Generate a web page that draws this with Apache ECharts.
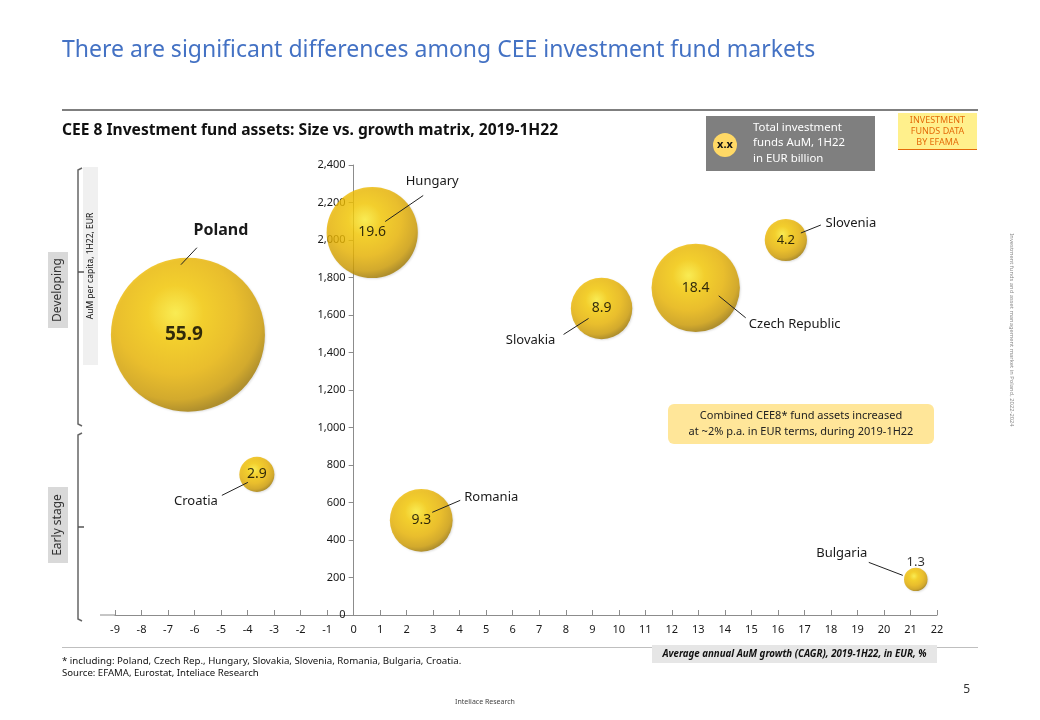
<!DOCTYPE html>
<html><head><meta charset="utf-8">
<script src="https://cdn.jsdelivr.net/npm/echarts@6/dist/echarts.min.js"></script>
<style>html,body{margin:0;padding:0;background:#fff}#c{width:1040px;height:720px}</style>
</head><body><div id="c"></div>
<script>
// ---- data ----
var countries = ['Poland','Hungary','Slovenia','Czech Republic','Slovakia','Croatia','Romania','Bulgaria'];
var growth =    [-6.25, 0.7, 16.3, 12.9, 9.35, -3.65, 2.55, 21.2];   // CAGR %, x
var perCapita = [1495, 2040, 2000, 1745, 1635, 750, 505, 190];        // AuM per capita EUR, y
var aum =       [55.9, 19.6, 4.2, 18.4, 8.9, 2.9, 9.3, 1.3];          // EUR bn, bubble size
var xTicks = {min:-9, max:22, interval:1};
var yTicks = {min:0, max:2400, interval:200};
var threshold = 1000;

// ---- label styling (pixel offsets from bubble centre) ----
var nameStyle = [
  {tx:33, ty:-104, bold:true, size:16, l:[-7,-70,9,-87]},
  {tx:60, ty:-51, l:[13,-11,51,-37]},
  {tx:65, ty:-17, l:[15,-7,35,-15]},
  {tx:99, ty:36, l:[23,8,50,30]},
  {tx:-71, ty:32, l:[-38,26,-13,10]},
  {tx:-61, ty:27, l:[-35,21,-9,8]},
  {tx:70, ty:-23, l:[11,-8,39,-20]},
  {tx:-74, ty:-26, l:[-47,-17,-13,-4]}
];
var valStyle = [{bold:true,size:19,dx:-4},{size:14,dx:0},{size:13},{size:14},{size:14},{size:14},{size:14},{size:13,dy:-17}];

var FONT = '"Noto Sans", "Open Sans", sans-serif';
var chart = echarts.init(document.getElementById('c'), null, {renderer:'canvas'});

var bubbleColor = new echarts.graphic.RadialGradient(0.42, 0.36, 0.72, [
  {offset:0, color:'#FFEE30'},
  {offset:0.25, color:'#F7CA00'},
  {offset:0.55, color:'#EBB500'},
  {offset:0.78, color:'#CF9C00'},
  {offset:0.9, color:'#A27A00'},
  {offset:1, color:'#BC9000'}
]);

var seriesData = countries.map(function(c,i){
  var vs = valStyle[i];
  return {
    name:c, value:[growth[i], perCapita[i], aum[i]],
    label:{show:true, position:'inside', formatter: aum[i].toFixed(1),
      fontSize: vs.size, fontWeight: vs.bold?'bold':'normal', color:'#000', fontFamily:FONT,
      offset:[vs.dx||0, vs.dy||0]}
  };
});

var GL = 115, GR = 103;
var unit = (1040 - GL - GR) / (xTicks.max - xTicks.min);
var yOffset = -(0 - xTicks.min) * unit;

var option = {
  backgroundColor:'#fff',
  animation:false,
  grid:{left:GL, right:GR, top:165, bottom:105, containLabel:false},
  xAxis:{type:'value', min:xTicks.min, max:xTicks.max, interval:xTicks.interval,
    splitLine:{show:false},
    axisLine:{onZero:false, lineStyle:{color:'#8c8c8c'}},
    axisTick:{show:true, inside:true, length:5, lineStyle:{color:'#8c8c8c'}},
    axisLabel:{color:'#1a1a1a', fontSize:11, fontFamily:FONT, margin:9}},
  yAxis:{type:'value', min:yTicks.min, max:yTicks.max, interval:yTicks.interval,
    offset:yOffset,
    splitLine:{show:false},
    axisLine:{show:true, onZero:false, lineStyle:{color:'#8c8c8c'}},
    axisTick:{show:true, length:5, lineStyle:{color:'#8c8c8c'}},
    axisLabel:{color:'#1a1a1a', fontSize:11, fontFamily:FONT, margin:8,
      formatter:function(v){return v.toLocaleString('en-US');}}},
  series:[{
    type:'scatter', clip:false,
    data: seriesData,
    symbolSize:function(v){return 20.6*Math.sqrt(v[2]);},
    itemStyle:{color:bubbleColor, shadowBlur:2, shadowColor:'rgba(0,0,0,0.15)', shadowOffsetX:1, shadowOffsetY:1},
    markLine:{silent:true, symbol:'none', label:{show:false},
      lineStyle:{type:[4,3], color:'#555', width:1},
      data:[[{coord:[-8.2, threshold]},{coord:[24.4, threshold]}]]}
  }]
};
chart.setOption(option);

// ---- country names & leader lines ----
var g = [];
countries.forEach(function(c,i){
  var p = chart.convertToPixel({gridIndex:0},[growth[i], perCapita[i]]);
  var s = nameStyle[i];
  g.push({type:'line', silent:true, z:50, shape:{x1:p[0]+s.l[0], y1:p[1]+s.l[1], x2:p[0]+s.l[2], y2:p[1]+s.l[3]},
    style:{stroke:'#222', lineWidth:1}});
  g.push({type:'text', z:50, x:p[0]+s.tx, y:p[1]+s.ty, style:{text:c, fill:'#1a1a1a', font:(s.bold?'bold ':'')+(s.size||13)+'px '+FONT, align:'center', verticalAlign:'middle'}});
});

// ---- static page decorations ----
g = g.concat([
  {type:'text', x:62, y:50, style:{text:'There are significant differences among CEE investment fund markets', fill:'#4472C4', font:'23px '+FONT, verticalAlign:'middle'}},
  {type:'line', shape:{x1:100, y1:615, x2:115, y2:615}, style:{stroke:'#8c8c8c', lineWidth:1}},
  {type:'rect', shape:{x:62, y:109, width:916, height:2}, style:{fill:'#7f7f7f'}},
  {type:'text', x:62, y:131, style:{text:'CEE 8 Investment fund assets: Size vs. growth matrix, 2019-1H22', fill:'#111', font:'bold 15.6px '+FONT, verticalAlign:'middle'}},
  // legend box
  {type:'rect', shape:{x:706, y:116, width:169, height:55}, style:{fill:'#7f7f7f'}},
  {type:'circle', shape:{cx:725, cy:145, r:12}, style:{fill:'#FFD966'}},
  {type:'text', x:725, y:145, style:{text:'x.x', fill:'#111', font:'bold 11px '+FONT, align:'center', verticalAlign:'middle'}},
  {type:'text', x:753, y:143, style:{text:'Total investment\nfunds AuM, 1H22\nin EUR billion', fill:'#fff', font:'11.4px '+FONT, lineHeight:15.5, verticalAlign:'middle'}},
  // efama box
  {type:'rect', shape:{x:898, y:113, width:79, height:37}, style:{fill:'#FFF08C'}},
  {type:'rect', shape:{x:898, y:149, width:79, height:1}, style:{fill:'#E46C0A'}},
  {type:'text', x:937.5, y:131, style:{text:'INVESTMENT\nFUNDS DATA\nBY EFAMA', fill:'#E46C0A', font:'9px '+FONT, align:'center', verticalAlign:'middle', lineHeight:11}},
  // left side labels
  {type:'rect', shape:{x:48, y:252, width:20, height:76}, style:{fill:'#d9d9d9'}},
  {type:'text', x:58, y:290, rotation:Math.PI/2, style:{text:'Developing', fill:'#333', font:'12px '+FONT, align:'center', verticalAlign:'middle'}},
  {type:'rect', shape:{x:48, y:487, width:20, height:76}, style:{fill:'#d9d9d9'}},
  {type:'text', x:58, y:525, rotation:Math.PI/2, style:{text:'Early stage', fill:'#333', font:'12px '+FONT, align:'center', verticalAlign:'middle'}},
  {type:'rect', shape:{x:83, y:167, width:15, height:198}, style:{fill:'#f0f0f0'}},
  {type:'text', x:90.5, y:266, rotation:Math.PI/2, style:{text:'AuM per capita, 1H22, EUR', fill:'#111', font:'8.5px '+FONT, align:'center', verticalAlign:'middle'}},
  // left brackets
  {type:'polyline', shape:{points:[[82,168],[78,170],[78,424],[82,426]]}, style:{stroke:'#666', lineWidth:1.5, fill:null}},
  {type:'line', shape:{x1:78,y1:272,x2:84,y2:272}, style:{stroke:'#555', lineWidth:1.5}},
  {type:'polyline', shape:{points:[[82,433],[78,435],[78,619],[82,621]]}, style:{stroke:'#666', lineWidth:1.5, fill:null}},
  {type:'line', shape:{x1:78,y1:527,x2:84,y2:527}, style:{stroke:'#555', lineWidth:1.5}},
  // annotation
  {type:'rect', shape:{x:668, y:404, width:266, height:40, r:6}, style:{fill:'#FFE699'}},
  {type:'text', x:801, y:424, style:{text:'Combined CEE8* fund assets increased\nat ~2% p.a. in EUR terms, during 2019-1H22', fill:'#222', font:'11px '+FONT, align:'center', verticalAlign:'middle', lineHeight:16}},
  // right vertical note
  {type:'text', x:1012, y:330, rotation:-Math.PI/2, style:{text:'Investment funds and asset management market in Poland, 2022-2024', fill:'#888', font:'5.8px '+FONT, align:'center', verticalAlign:'middle'}},
  // bottom
  {type:'rect', shape:{x:62, y:647, width:916, height:1}, style:{fill:'#bfbfbf'}},
  {type:'rect', shape:{x:652, y:645, width:285, height:18}, style:{fill:'#e6e6e6'}},
  {type:'text', x:794.5, y:654, style:{text:'Average annual AuM growth (CAGR), 2019-1H22, in EUR, %', fill:'#111', font:'italic bold 9.7px '+FONT, align:'center', verticalAlign:'middle'}},
  {type:'text', x:62, y:661, style:{text:'* including: Poland, Czech Rep., Hungary, Slovakia, Slovenia, Romania, Bulgaria, Croatia.', fill:'#111', font:'9.7px '+FONT, verticalAlign:'middle'}},
  {type:'text', x:62, y:673, style:{text:'Source: EFAMA, Eurostat, Inteliace Research', fill:'#111', font:'9.6px '+FONT, verticalAlign:'middle'}},
  {type:'text', x:485, y:702, style:{text:'Inteliace Research', fill:'#444', font:'7px '+FONT, align:'center', verticalAlign:'middle'}},
  {type:'text', x:970, y:690, style:{text:'5', fill:'#333', font:'12px '+FONT, align:'right', verticalAlign:'middle'}}
]);
chart.setOption({graphic:g});
</script></body></html>
